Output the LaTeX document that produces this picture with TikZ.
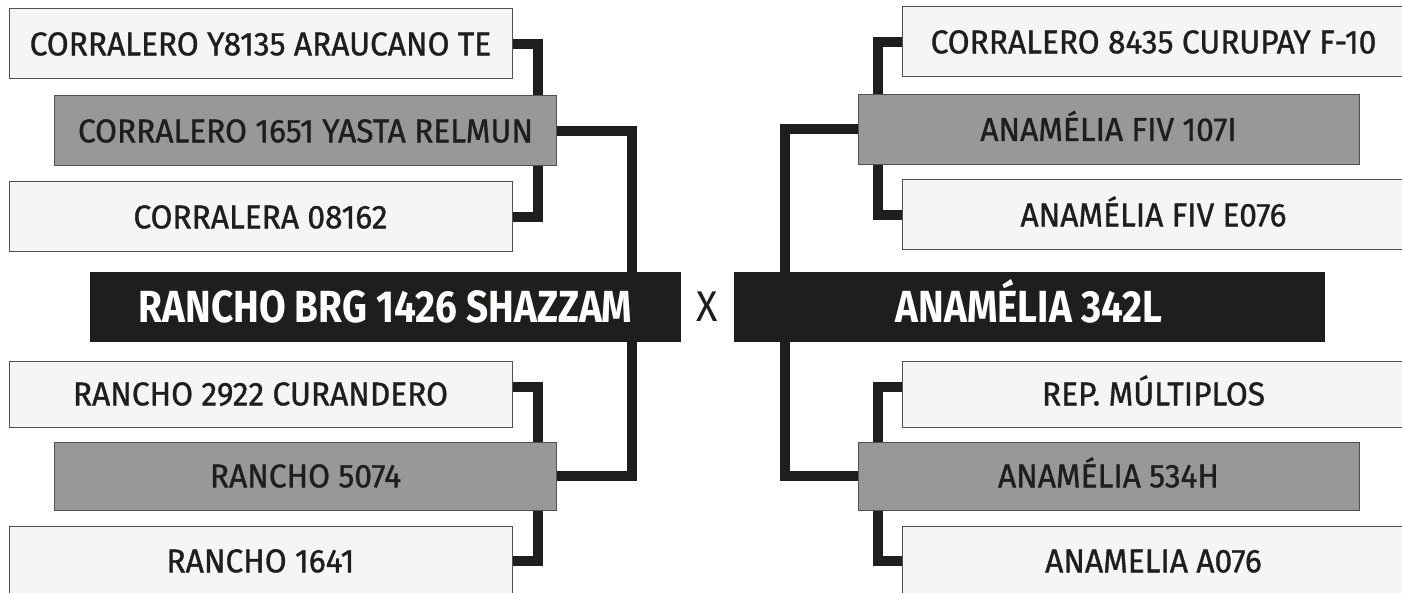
\documentclass[tikz,border=0pt]{standalone}
\usepackage{fontspec}
\setmainfont{Fira Sans}[FakeStretch=0.96,FakeBold=1]
\newfontfamily\crossfont{Fira Sans}[FakeStretch=0.92]
\newfontfamily\headfont{Fira Sans}[FakeStretch=0.86]
\usetikzlibrary{positioning}

\definecolor{boxlight}{HTML}{F5F5F3}
\definecolor{boxgray}{HTML}{989898}
\definecolor{boxblack}{HTML}{1E1E1C}
\definecolor{boxline}{HTML}{505050}

\begin{document}
\begin{tikzpicture} [
	x=1pt,y=-1pt,
	text centered,
	nlight/.style={
		rectangle,draw=boxline,line width=1pt,fill=boxlight,
		text=boxblack,inner sep=0pt,
		minimum width=503pt,minimum height=70pt,
		text height=22.7pt,text depth=0pt,
		font=\fontsize{33}{33}\selectfont
	},
	ngray/.style={
		nlight,fill=boxgray,minimum width=502pt
	},
	nmain/.style={
		rectangle,fill=boxblack,text=white,inner sep=0pt,
		minimum width=591pt,minimum height=70pt,
		text height=31pt,text depth=0pt,
		font=\fontsize{45}{45}\headfont\bfseries
	},
	link/.style={
		draw=boxblack,line width=10pt
	}
]
\useasboundingbox (0,0) rectangle (1402,593);
\clip (0,0) rectangle (1402,593);

% sire side
\node [nlight]	(araucano)	at (260.5,44)	{CORRALERO Y8135 ARAUCANO TE};
\node [ngray]	(yasta)		at (305.5,131)	{CORRALERO 1651 YASTA RELMUN};
\node [nlight]	(corralera)	at (260.5,217)	{CORRALERA 08162};
\node [nmain]	(shazzam)	at (385.5,307)	{RANCHO BRG 1426 SHAZZAM};
\node [nlight,minimum height=66pt]	(curandero)	at (260.5,394)	{RANCHO 2922 CURANDERO};
\node [ngray,minimum height=68pt]	(r5074)		at (305.5,476)	{RANCHO 5074};
\node [nlight]	(r1641)		at (260.5,561)	{RANCHO 1641};

\node [text=boxblack,font=\fontsize{43}{43}\crossfont] (cross) at (707,307) {X};

% dam side
\node [nmain]	(anamelia)	at (1029,307)	{ANAMÉLIA 342L};
\node [nlight]	(curupay)	at (1153.5,42)	{CORRALERO 8435 CURUPAY F-10};
\node [ngray,minimum width=501pt]	(fiv107)	at (1108.5,129.5)	{ANAMÉLIA FIV 107I};
\node [nlight]	(fivE076)	at (1153.5,215)	{ANAMÉLIA FIV E076};
\node [nlight,minimum height=66pt]	(multiplos)	at (1153.5,394)	{REP. MÚLTIPLOS};
\node [ngray,minimum width=501pt,minimum height=68pt]	(a534)	at (1108.5,476)	{ANAMÉLIA 534H};
\node [nlight]	(a076)		at (1153.5,561)	{ANAMELIA A076};

\coordinate (lin) at (538,0);
\coordinate (lout) at (632,0);
\coordinate (rout) at (785,0);
\coordinate (rin) at (878,0);

\draw [link] (araucano.east) -| (yasta.north -| lin);
\draw [link] (corralera.east) -| (yasta.south -| lin);
\draw [link] (yasta.east) -| (shazzam.north -| lout);
\draw [link] (r5074.east) -| (shazzam.south -| lout);
\draw [link] ([yshift=7pt]curandero.east) -| (r5074.north -| lin);
\draw [link] (r1641.east) -| (r5074.south -| lin);

\draw [link] (curupay.west) -| (fiv107.north -| rin);
\draw [link] (fivE076.west) -| (fiv107.south -| rin);
\draw [link] (fiv107.west) -| (anamelia.north -| rout);
\draw [link] (a534.west) -| (anamelia.south -| rout);
\draw [link] ([yshift=7pt]multiplos.west) -| (a534.north -| rin);
\draw [link] (a076.west) -| (a534.south -| rin);
\end{tikzpicture}
\end{document}
